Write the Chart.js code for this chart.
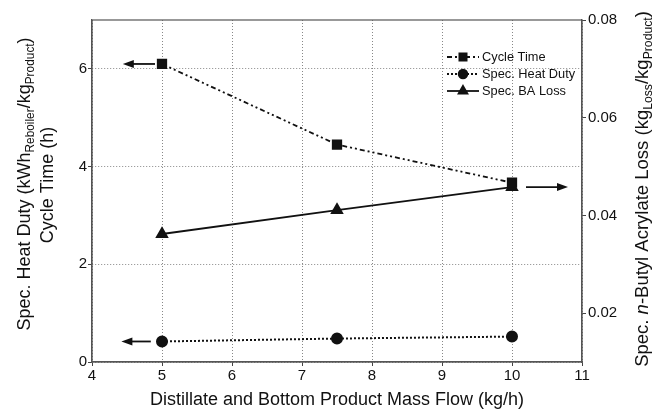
<!DOCTYPE html>
<html>
<head>
<meta charset="utf-8">
<script src="https://cdn.jsdelivr.net/npm/chart.js@4/dist/chart.umd.min.js"></script>
<style>
  body { margin: 0; background: #fff; }
  #wrap { width: 654px; height: 410px; }
</style>
</head>
<body>
<div id="wrap"><canvas id="c"></canvas></div>
<script>
// mass flow (kg/h) and the three measured series
const flows = [5, 7.5, 10];
const cycleTime = [6.1, 4.45, 3.67];       // h, left axis
const heatDuty = [0.42, 0.48, 0.52];       // kWh/kg, left axis
const baLoss = [0.0362, 0.0411, 0.0458];   // kg/kg, right axis
const leftTicks = [0, 2, 4, 6];
const rightTicks = [0.02, 0.04, 0.06, 0.08];

// arrows telling which axis each curve belongs to: [x0, y0, x1, y1, axis]
const arrows = [
  [4.9, 6.1, 4.44, 6.1, 'y'],
  [4.84, 0.42, 4.42, 0.42, 'y'],
  [10.2, 0.0458, 10.8, 0.0458, 'y2']
];

const FONT = "'Liberation Sans', Arial, Helvetica, sans-serif";
const INK = '#111';

function pts(ys) { return flows.map((x, i) => ({ x: x, y: ys[i] })); }

// draws text pieces (normal / subscript / italic) rotated bottom-to-top, centred on cx,cy
function vText(ctx, parts, cx, cy, size) {
  ctx.save();
  ctx.translate(cx, cy);
  ctx.rotate(-Math.PI / 2);
  ctx.textBaseline = 'middle';
  ctx.fillStyle = INK;
  const fontOf = p => (p.it ? 'italic ' : '') + (p.sub ? size * 0.66 : size) + 'px ' + FONT;
  let total = 0;
  parts.forEach(p => { ctx.font = fontOf(p); total += ctx.measureText(p.t).width; });
  let x = -total / 2;
  parts.forEach(p => {
    ctx.font = fontOf(p);
    ctx.fillText(p.t, x, p.sub ? size * 0.32 : 0);
    x += ctx.measureText(p.t).width;
  });
  ctx.restore();
}

function arrowHead(ctx, x, y, dir) {
  ctx.beginPath();
  ctx.moveTo(x, y);
  ctx.lineTo(x - dir * 11, y - 4);
  ctx.lineTo(x - dir * 11, y + 4);
  ctx.closePath();
  ctx.fill();
}

const decorations = {
  id: 'decorations',
  afterDraw(chart) {
    const { ctx, chartArea: a, scales } = chart;
    ctx.save();
    // frame
    ctx.strokeStyle = '#555';
    ctx.lineWidth = 1.2;
    ctx.strokeRect(a.left, a.top, a.right - a.left, a.bottom - a.top);

    // arrows
    ctx.strokeStyle = INK;
    ctx.fillStyle = INK;
    ctx.lineWidth = 1.8;
    arrows.forEach(([x0, y0, x1, y1, ax]) => {
      const px0 = scales.x.getPixelForValue(x0), px1 = scales.x.getPixelForValue(x1);
      const py = scales[ax].getPixelForValue(y0);
      const dir = px1 > px0 ? 1 : -1;
      ctx.beginPath();
      ctx.moveTo(px0, py);
      ctx.lineTo(px1 - dir * 8, py);
      ctx.stroke();
      arrowHead(ctx, px1, py, dir);
    });

    // legend
    const rows = [
      { label: 'Cycle Time', ds: 0, y: 57 },
      { label: 'Spec. Heat Duty', ds: 1, y: 74 },
      { label: 'Spec. BA Loss', ds: 2, y: 91 }
    ];
    rows.forEach(r => {
      const d = chart.data.datasets[r.ds];
      ctx.save();
      ctx.strokeStyle = INK;
      ctx.lineWidth = d.borderWidth;
      ctx.setLineDash(d.borderDash || []);
      ctx.beginPath();
      ctx.moveTo(447, r.y);
      ctx.lineTo(479, r.y);
      ctx.stroke();
      ctx.setLineDash([]);
      ctx.fillStyle = INK;
      Chart.helpers.drawPoint(ctx, { pointStyle: d.pointStyle, radius: d.pointRadius * 0.85, borderWidth: 1 }, 463, r.y);
      ctx.fill();
      ctx.font = '12.8px ' + FONT;
      ctx.textBaseline = 'middle';
      ctx.fillText(r.label, 482, r.y);
      ctx.restore();
    });

    // axis titles
    vText(ctx, [{ t: 'Spec. Heat Duty (kWh' }, { t: 'Reboiler', sub: true }, { t: '/kg' }, { t: 'Product', sub: true }, { t: ')' }], 25, 184, 18);
    vText(ctx, [{ t: 'Cycle Time (h)' }], 48, 185, 18);
    vText(ctx, [{ t: 'Spec. ' }, { t: 'n', it: true }, { t: '-Butyl Acrylate Loss (kg' }, { t: 'Loss', sub: true }, { t: '/kg' }, { t: 'Product', sub: true }, { t: ')' }], 643, 189, 18.5);

    ctx.font = '18px ' + FONT;
    ctx.fillStyle = INK;
    ctx.textAlign = 'center';
    ctx.textBaseline = 'middle';
    ctx.fillText('Distillate and Bottom Product Mass Flow (kg/h)', 337, 400);
    ctx.restore();
  }
};

const tickFont = { family: FONT, size: 15 };

new Chart(document.getElementById('c'), {
  type: 'line',
  data: {
    datasets: [
      {
        label: 'Cycle Time', data: pts(cycleTime), yAxisID: 'y',
        borderColor: INK, backgroundColor: INK, borderWidth: 1.8,
        borderDash: [5, 3, 2, 3, 2, 3], pointStyle: 'rect', pointRadius: 6
      },
      {
        label: 'Spec. Heat Duty', data: pts(heatDuty), yAxisID: 'y',
        borderColor: INK, backgroundColor: INK, borderWidth: 2,
        borderDash: [2, 2], pointStyle: 'circle', pointRadius: 5
      },
      {
        label: 'Spec. BA Loss', data: pts(baLoss), yAxisID: 'y2',
        borderColor: INK, backgroundColor: INK, borderWidth: 1.8,
        pointStyle: 'triangle', pointRadius: 6
      }
    ]
  },
  options: {
    responsive: true,
    maintainAspectRatio: false,
    animation: false,
    layout: { padding: { top: 20, left: 0, right: 0, bottom: 0 } },
    plugins: { legend: { display: false }, tooltip: { enabled: false } },
    scales: {
      x: {
        type: 'linear', min: 4, max: 11,
        ticks: { stepSize: 1, color: INK, font: tickFont, padding: 1, maxRotation: 0 },
        grid: { color: '#888', lineWidth: 1, tickLength: 4, tickColor: '#444', tickBorderDash: [] },
        border: { color: '#555', width: 1.2, dash: [1, 2] },
        afterFit(s) { s.height = 48; }
      },
      y: {
        position: 'left', min: 0, max: 7,
        afterBuildTicks(s) { s.ticks = leftTicks.map(v => ({ value: v })); },
        ticks: { color: INK, font: tickFont, padding: 1 },
        grid: { color: '#888', lineWidth: 1, tickLength: 4, tickColor: '#444', tickBorderDash: [] },
        border: { color: '#555', width: 1.2, dash: [1, 2] },
        afterFit(s) { s.width = 92; }
      },
      y2: {
        position: 'right', min: 0.01, max: 0.08,
        afterBuildTicks(s) { s.ticks = rightTicks.map(v => ({ value: v })); },
        ticks: { color: INK, font: tickFont, padding: 2, callback: v => v.toFixed(2) },
        grid: { drawOnChartArea: false, tickLength: 4, tickColor: '#444' },
        border: { color: '#555', width: 1.2 },
        afterFit(s) { s.width = 72; }
      }
    }
  },
  plugins: [decorations]
});
</script>
</body>
</html>
